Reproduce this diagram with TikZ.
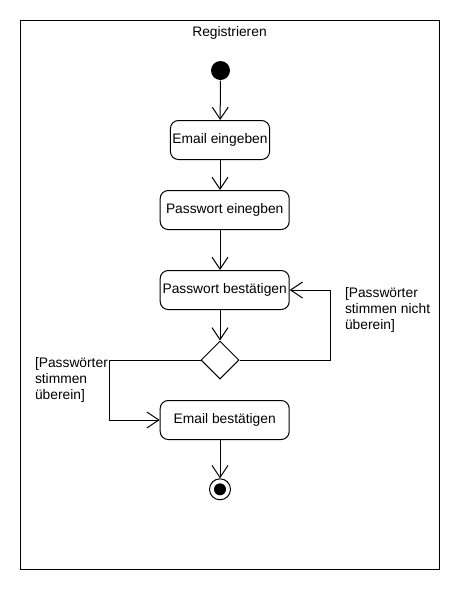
\documentclass[tikz,border=0pt]{standalone}
\usepackage{fontspec}
\setmainfont{Liberation Sans}
\usepackage{tikz}
\usetikzlibrary{arrows.meta,positioning}
\usetikzlibrary{calc}
\usetikzlibrary{shapes.geometric}
\tikzset{
  --|-/.style={
    to path={
      (\tikztostart) -- ++(#1,0) |- (\tikztotarget)
      \tikztonodes
    }
  },
  --|-/.default=90pt,
}
\begin{document}
\begin{tikzpicture}[x=1pt,y=-1pt,line width=1pt,
font=\fontsize{13.8}{16}\selectfont,
block/.style={rectangle,draw,rounded corners=8pt,
minimum width=129pt,minimum height=39pt,inner sep=2pt,
text centered,anchor=center},
flow/.style={-{Straight Barb[length=12pt,width=16pt]}},
guard/.style={anchor=north west,inner sep=0pt,align=left},
]
\useasboundingbox (0,0) rectangle (470,590);
\draw (20.3,20.3) rectangle (439.3,569.3);
\node (title) at (229.5,33) {Registrieren};
\node (start) [circle,fill,inner sep=0pt,minimum size=19pt] at (220.5,70.5) {};
\node (email) [block,minimum width=99pt] at (220,140) {Email eingeben};
\node (pwd) [block] at (224.7,210) {Passwort einegben};
\node (confirm) [block] at (224.7,290) {Passwort bestätigen};
\node (dec) [diamond,draw,inner sep=0pt,minimum width=38pt,minimum height=38pt] at (220,360) {};
\node (verify) [block] at (224.7,420) {Email bestätigen};
\node (stop) [circle,draw,inner sep=0pt,minimum size=21pt] at (220,489.3) {};
\node (stopin) [circle,fill,inner sep=0pt,minimum size=12pt] at (stop) {};
\node (no) [guard] at (344.5,287) {[Passwörter\\stimmen nicht\\überein]};
\node (yes) [guard] at (34.5,356.5) {[Passwörter\\stimmen\\überein]};
\draw[flow] (start) -- (email);
\draw[flow] (email) -- (email |- pwd.north);
\draw[flow] (pwd.south -| email) -- (email |- confirm.north);
\draw[flow] (confirm.south -| dec) -- (dec.north);
\draw[flow] (dec.east) to[--|-={91pt}] (confirm.east);
\draw[flow] (dec.west) to[--|-={-91pt}] (verify.west);
\draw[flow] (verify.south -| stop) -- (stop);
\end{tikzpicture}
\end{document}
